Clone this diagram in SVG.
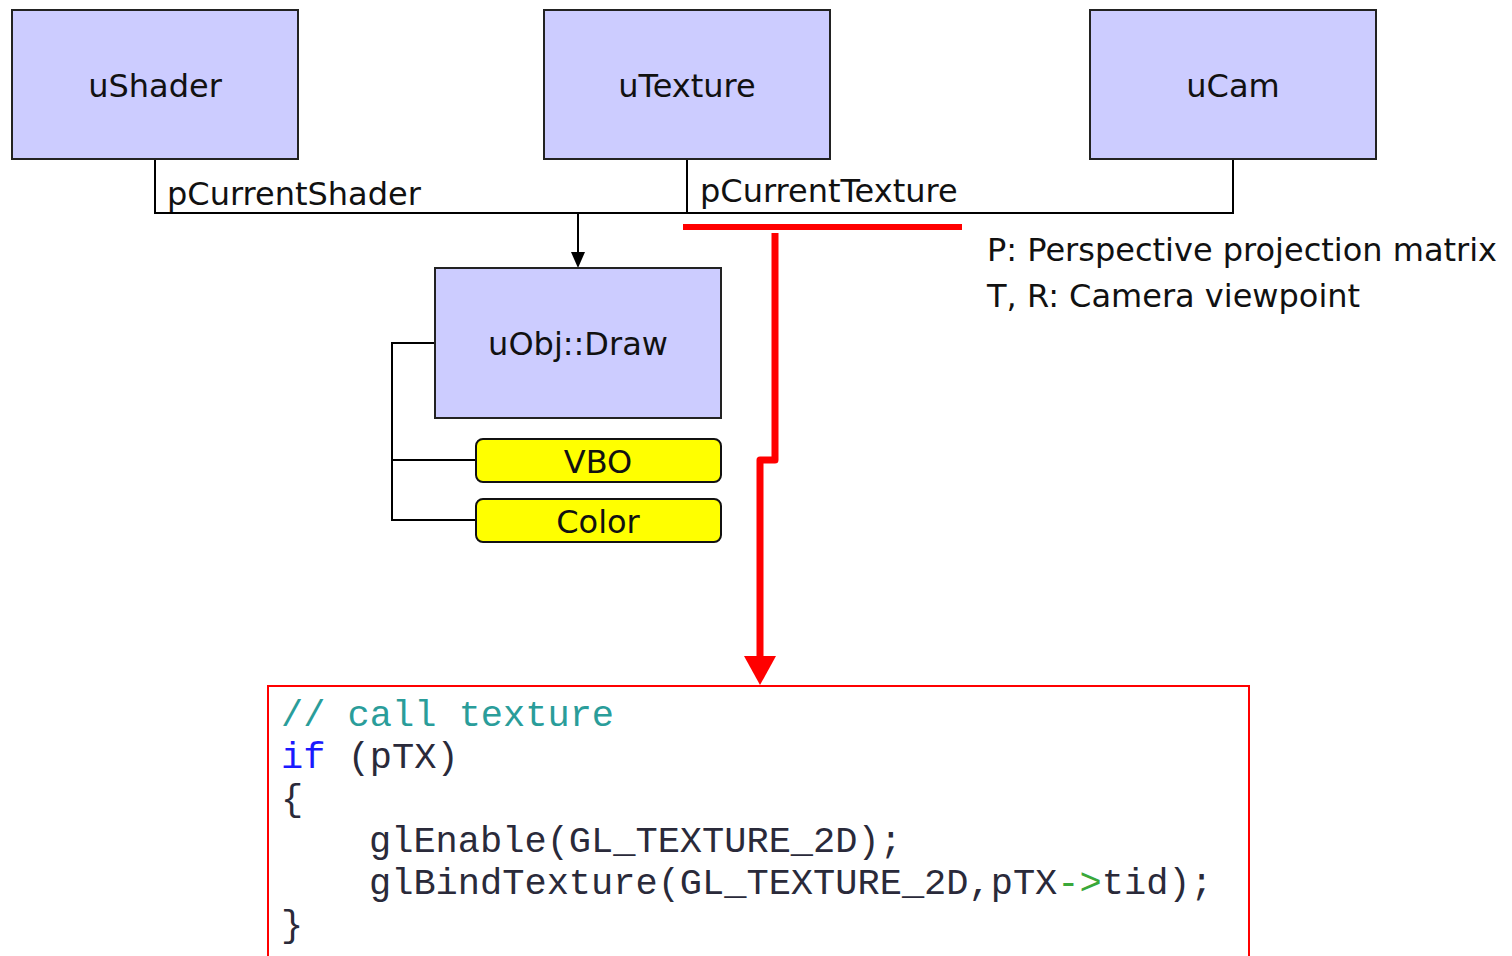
<svg xmlns="http://www.w3.org/2000/svg" width="1512" height="956" viewBox="0 0 1512 956">
  <style>
    .node { fill: #ccccff; stroke: #222; stroke-width: 2; }
    .tag { fill: #ffff00; stroke: #111; stroke-width: 2; }
    .lbl { font-family: "DejaVu Sans", Verdana, sans-serif; font-size: 32px; fill: #111; }
    .mid { text-anchor: middle; }
    .wire { fill: none; stroke: #000; stroke-width: 2; }
    .red { fill: none; stroke: #ff0000; stroke-width: 7; }
    .code { font-family: "Liberation Mono", "Courier New", monospace; font-size: 37px; fill: #2a2a3a; }
  </style>

  <rect width="1512" height="956" fill="#fff"/>

  <!-- connectors -->
  <g id="connectors">
    <path class="wire" d="M155,159 V213 H1233 V159"/>
    <path class="wire" d="M687,159 V213"/>
    <path class="wire" d="M578,213 V252"/>
    <path d="M571,252 L585,252 L578,268 Z" fill="#000"/>
    <path class="wire" d="M435,343 H392 V520 H476 M392,460 H476"/>
    <!-- texture path to code -->
    <line x1="683" y1="227" x2="962" y2="227" stroke="#ff0000" stroke-width="6"/>
    <path class="red" d="M775,233 V460 H760 V658" stroke-linejoin="round"/>
    <path d="M744,656 L776,656 L760,685 Z" fill="#ff0000"/>
    <text class="lbl" x="167" y="205">pCurrentShader</text>
    <text class="lbl" x="700" y="202">pCurrentTexture</text>
  </g>

  <g id="uShader">
    <rect class="node" x="12" y="10" width="286" height="149"/>
    <text class="lbl mid" x="155" y="97">uShader</text>
  </g>
  <g id="uTexture">
    <rect class="node" x="544" y="10" width="286" height="149"/>
    <text class="lbl mid" x="687" y="97">uTexture</text>
  </g>
  <g id="uCam">
    <rect class="node" x="1090" y="10" width="286" height="149"/>
    <text class="lbl mid" x="1233" y="97">uCam</text>
  </g>
  <g id="uObjDraw">
    <rect class="node" x="435" y="268" width="286" height="150"/>
    <text class="lbl mid" x="578" y="355">uObj::Draw</text>
  </g>
  <g id="VBO">
    <rect class="tag" x="476" y="439" width="245" height="43" rx="7"/>
    <text class="lbl mid" x="598" y="473">VBO</text>
  </g>
  <g id="Color">
    <rect class="tag" x="476" y="499" width="245" height="43" rx="7"/>
    <text class="lbl mid" x="598" y="533">Color</text>
  </g>

  <g id="legend">
    <text class="lbl" x="987" y="261">P: Perspective projection matrix</text>
    <text class="lbl" x="987" y="307">T, R: Camera viewpoint</text>
  </g>

  <g id="codeBlock">
    <rect x="268" y="686" width="981" height="290" fill="none" stroke="#ff0000" stroke-width="2"/>
    <text class="code" x="281" y="726" style="fill:#2a9d9a">// call texture</text>
    <text class="code" x="281" y="768"><tspan style="fill:#1a1aff">if</tspan> (pTX)</text>
    <text class="code" x="281" y="810">{</text>
    <text class="code" x="369" y="852">glEnable(GL_TEXTURE_2D);</text>
    <text class="code" x="369" y="894">glBindTexture(GL_TEXTURE_2D,pTX<tspan style="fill:#3aa83a">-&gt;</tspan>tid);</text>
    <text class="code" x="281" y="936">}</text>
  </g>
</svg>
